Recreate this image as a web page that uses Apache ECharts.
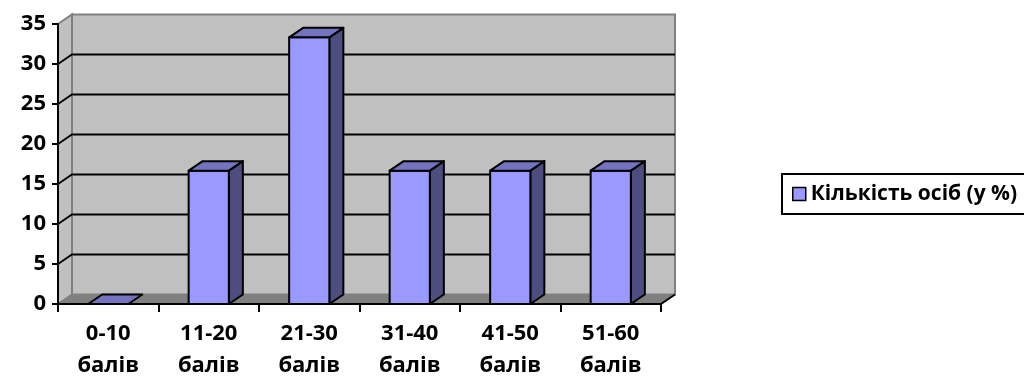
<!DOCTYPE html>
<html>
<head>
<meta charset="utf-8">
<script src="https://cdn.jsdelivr.net/npm/echarts@6/dist/echarts.min.js"></script>
<style>
  html, body { margin: 0; padding: 0; background: #ffffff; overflow: hidden; }
  #chart { width: 1024px; height: 378px; }
</style>
</head>
<body>
<div id="chart"></div>
<script>
// Score ranges and share of people in each range
const categories = ['0-10', '11-20', '21-30', '31-40', '41-50', '51-60'];
const unitLabel = 'балів';
const shares = [0, 16.67, 33.33, 16.67, 16.67, 16.67];
const yTicks = [0, 5, 10, 15, 20, 25, 30, 35];
const seriesName = 'Кількість осіб (у %)';

// depth of the 3-D box (pixels)
const DX = 14, DY = -9.5;
const FONT = '"Open Sans", "DejaVu Sans", sans-serif';

const chart = echarts.init(document.getElementById('chart'), null, { renderer: 'canvas', width: 1024, height: 378 });

// back wall, side wall, floor and gridlines
function renderWalls(params, api) {
  const cs = params.coordSys;
  const x0 = cs.x, x1 = cs.x + cs.width;
  const yTop = api.coord([0, yTicks[yTicks.length - 1]])[1];
  const yBot = api.coord([0, yTicks[0]])[1];
  const children = [];
  // back wall
  children.push({
    type: 'rect',
    shape: { x: x0 + DX, y: yTop + DY, width: x1 - x0, height: yBot - yTop },
    style: { fill: '#c0c0c0', stroke: '#808080', lineWidth: 2 }
  });
  // left wall
  children.push({
    type: 'polygon',
    shape: { points: [[x0, yTop], [x0 + DX, yTop + DY], [x0 + DX, yBot + DY], [x0, yBot]] },
    style: { fill: '#c0c0c0', stroke: '#808080', lineWidth: 2 }
  });
  // gridlines on side and back walls
  yTicks.slice(1, -1).forEach(function (v) {
    const y = api.coord([0, v])[1];
    children.push({
      type: 'polyline',
      shape: { points: [[x0, y], [x0 + DX, y + DY], [x1 + DX, y + DY]] },
      style: { fill: null, stroke: '#000000', lineWidth: 2 }
    });
  });
  // floor
  children.push({
    type: 'polygon',
    shape: { points: [[x0, yBot], [x1, yBot], [x1 + DX, yBot + DY], [x0 + DX, yBot + DY]] },
    style: { fill: '#808080', stroke: null }
  });
  children.push({
    type: 'line',
    shape: { x1: x1, y1: yBot, x2: x1 + DX, y2: yBot + DY },
    style: { stroke: '#000000', lineWidth: 2 }
  });
  return { type: 'group', children: children };
}

// one 3-D column: front face, top face and right side
function renderBar(params, api) {
  const idx = api.value(0);
  const val = api.value(1);
  const base = api.coord([idx, 0]);
  const top = api.coord([idx, val]);
  const bw = api.size([1, 0])[0] * 0.4;
  const xl = base[0] - bw / 2, xr = base[0] + bw / 2;
  const yb = base[1], yt = top[1];
  const stroke = { stroke: '#000000', lineWidth: 2, lineJoin: 'round' };
  const children = [];
  if (yb - yt > 0.5) {
    children.push({
      type: 'polygon',
      shape: { points: [[xr, yt], [xr + DX, yt + DY], [xr + DX, yb + DY], [xr, yb]] },
      style: Object.assign({ fill: '#4d4d80' }, stroke)
    });
    children.push({
      type: 'rect',
      shape: { x: xl, y: yt, width: bw, height: yb - yt },
      style: Object.assign({ fill: '#9999ff' }, stroke)
    });
  }
  children.push({
    type: 'polygon',
    shape: { points: [[xl, yt], [xr, yt], [xr + DX, yt + DY], [xl + DX, yt + DY]] },
    style: Object.assign({ fill: '#7373c0' }, stroke)
  });
  return { type: 'group', children: children };
}

const option = {
  backgroundColor: '#ffffff',
  animation: false,
  grid: { left: 58, top: 24, width: 603, height: 280, containLabel: false, outerBoundsMode: 'none' },
  // legend frame, open at the right edge of the canvas
  graphic: [{
    type: 'polyline', z: 5,
    shape: { points: [[1030, 174], [782, 174], [782, 214], [1030, 214]] },
    style: { fill: '#ffffff', stroke: '#000000', lineWidth: 2 }
  }],
  legend: {
    left: 782, top: 174, z: 6,
    data: [{ name: seriesName, icon: 'rect',
             itemStyle: { color: '#9999ff', borderColor: '#000000', borderWidth: 1.5 } }],
    itemWidth: 13, itemHeight: 13,
    padding: [8, 10, 8, 10],
    textStyle: { fontFamily: FONT, fontWeight: 'bold', fontSize: 21, color: '#000000', lineHeight: 24, overflow: 'none' },
    selectedMode: false
  },
  xAxis: {
    type: 'category',
    data: categories,
    boundaryGap: true,
    z: 10,
    axisLine: { lineStyle: { color: '#000000', width: 2 } },
    axisTick: { show: true, length: 8, lineStyle: { color: '#000000', width: 2 } },
    axisLabel: {
      margin: 14,
      fontFamily: FONT, fontWeight: 'bold', fontSize: 22, color: '#000000', lineHeight: 32,
      formatter: function (v) { return v + '\n' + unitLabel; }
    },
    splitLine: { show: false }
  },
  yAxis: {
    type: 'value',
    min: 0, max: 35, interval: 5,
    z: 10,
    axisLine: { show: true, lineStyle: { color: '#000000', width: 2 } },
    axisTick: { show: true, length: 6, lineStyle: { color: '#000000', width: 2 } },
    axisLabel: { margin: 12, fontFamily: FONT, fontWeight: 'bold', fontSize: 22, color: '#000000' },
    splitLine: { show: false }
  },
  series: [
    {
      type: 'custom',
      name: 'walls',
      z: 1,
      silent: true,
      renderItem: renderWalls,
      data: [[0, 0]]
    },
    {
      type: 'custom',
      name: seriesName,
      z: 3,
      itemStyle: { color: '#9999ff' },
      renderItem: renderBar,
      encode: { x: 0, y: 1 },
      data: shares.map(function (v, i) { return [i, v]; })
    }
  ]
};

chart.setOption(option);
</script>
</body>
</html>
